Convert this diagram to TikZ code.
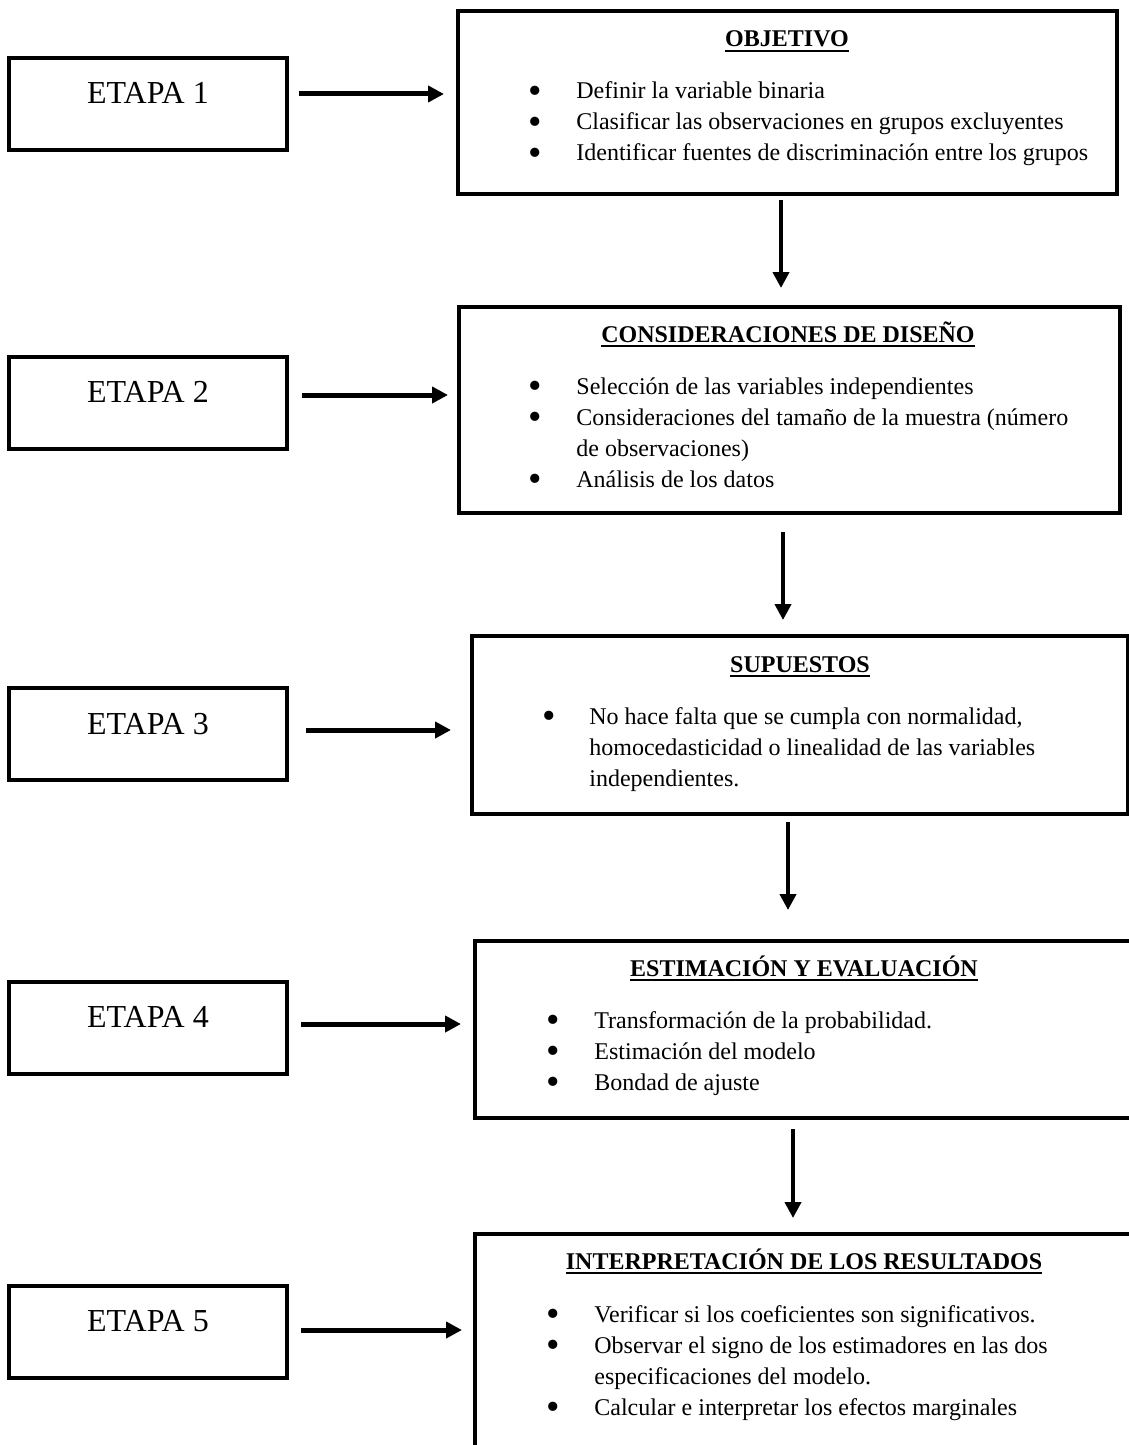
\documentclass[tikz,border=0pt]{standalone}
\usepackage{fontspec}
\setmainfont{Liberation Serif}
\usetikzlibrary{arrows.meta}

\newsavebox{\cajatit}
\newcommand{\subrayado}[1]{\sbox{\cajatit}{#1}\rlap{\rule[-2.6pt]{\wd\cajatit}{1.1pt}}\usebox{\cajatit}}
\newcommand{\vineta}{\raisebox{-2pt}{\scalebox{1.6}{\textbullet}}}

\tikzset{
  etapa/.style={draw,line width=2pt,minimum width=139pt,minimum height=46pt,inner sep=0pt},
  marco/.style={draw,line width=2pt,inner sep=0pt},
  rotulo/.style={font=\fontsize{16}{19}\selectfont,inner sep=0pt,anchor=base},
  titulo/.style={font=\fontsize{12}{15}\selectfont\bfseries,inner sep=0pt,anchor=base},
  lista/.style={font=\fontsize{12}{15.5}\selectfont,inner sep=0pt,anchor=base west},
  flecha/.style={-{Triangle[length=8pt,width=8pt]},line width=2.5pt},
  bajada/.style={-{Triangle[length=8pt,width=8pt]},line width=2pt}
}

\begin{document}
\begin{tikzpicture}[x=0.5pt,y=-0.5pt]
  \useasboundingbox (0,0) rectangle (1129,1445);
  \clip (0,0) rectangle (1129,1445);

  % etapas
  \node[etapa] (e1) at (148,104) {};
  \node[etapa] (e2) at (148,402.5) {};
  \node[etapa] (e3) at (148,734) {};
  \node[etapa] (e4) at (148,1027.5) {};
  \node[etapa] (e5) at (148,1331.5) {};
  \foreach \i in {1,...,5}
    \node[rotulo] (t\i) at (e\i.center) {ETAPA \i};

  % cuadros de contenido
  \node[marco,minimum width=329.5pt,minimum height=91.5pt] (o1) at (787.5,102.5) {};
  \node[marco,minimum width=330.5pt,minimum height=103pt] (o2) at (789.5,410) {};
  \node[marco,minimum width=328pt,minimum height=89pt] (o3) at (800,725) {};
  \node[marco,minimum width=329pt,minimum height=88.5pt] (o4) at (804,1029.5) {};
  \node[marco,minimum width=329pt,minimum height=113pt] (o5) at (804,1347) {};

  \node[titulo] (h1) at (787,47) {\subrayado{OBJETIVO}};
  \node[lista] (l1) at (528,99) {\begin{tabular}[t]{@{}p{24pt}@{}l@{}}
    \vineta & Definir la variable binaria\\
    \vineta & Clasificar las observaciones en grupos excluyentes\\
    \vineta & Identificar fuentes de discriminación entre los grupos
  \end{tabular}};

  \node[titulo] (h2) at (788,342) {\subrayado{CONSIDERACIONES DE DISEÑO}};
  \node[lista] (l2) at (528,394) {\begin{tabular}[t]{@{}p{24pt}@{}l@{}}
    \vineta & Selección de las variables independientes\\
    \vineta & Consideraciones del tamaño de la muestra (número\\
            & de observaciones)\\
    \vineta & Análisis de los datos
  \end{tabular}};

  \node[titulo] (h3) at (800,672) {\subrayado{SUPUESTOS}};
  \node[lista] (l3) at (542,724) {\begin{tabular}[t]{@{}p{23.5pt}@{}l@{}}
    \vineta & No hace falta que se cumpla con normalidad,\\
            & homocedasticidad o linealidad de las variables\\
            & independientes.
  \end{tabular}};

  \node[titulo] (h4) at (804,976) {\subrayado{ESTIMACIÓN Y EVALUACIÓN}};
  \node[lista] (l4) at (546,1028) {\begin{tabular}[t]{@{}p{24pt}@{}l@{}}
    \vineta & Transformación de la probabilidad.\\
    \vineta & Estimación del modelo\\
    \vineta & Bondad de ajuste
  \end{tabular}};

  \node[titulo] (h5) at (804,1269) {\subrayado{INTERPRETACIÓN DE LOS RESULTADOS}};
  \node[lista] (l5) at (546,1322) {\begin{tabular}[t]{@{}p{24pt}@{}l@{}}
    \vineta & Verificar si los coeficientes son significativos.\\
    \vineta & Observar el signo de los estimadores en las dos\\
            & especificaciones del modelo.\\
    \vineta & Calcular e interpretar los efectos marginales
  \end{tabular}};

  % flechas horizontales
  \draw[flecha,shorten <=5pt,shorten >=6pt] ([yshift=5pt]e1.east) -- ([yshift=5pt]e1.east -| o1.west);
  \draw[flecha,shorten <=6.5pt,shorten >=4.5pt] ([yshift=3.75pt]e2.east) -- ([yshift=3.75pt]e2.east -| o2.west);
  \draw[flecha,shorten <=8.5pt,shorten >=9.5pt] ([yshift=2pt]e3.east) -- ([yshift=2pt]e3.east -| o3.west);
  \draw[flecha,shorten <=6pt,shorten >=6pt] ([yshift=1.75pt]e4.east) -- ([yshift=1.75pt]e4.east -| o4.west);
  \draw[flecha,shorten <=6pt,shorten >=5.5pt] ([yshift=0.75pt]e5.east) -- ([yshift=0.75pt]e5.east -| o5.west);

  % flechas verticales
  \draw[bajada,shorten <=2pt,shorten >=8.5pt] ([xshift=-3.25pt]o1.south) -- ([xshift=-3.25pt]o1.south |- o2.north);
  \draw[bajada,shorten <=8.5pt,shorten >=7pt] ([xshift=-3.25pt]o2.south) -- ([xshift=-3.25pt]o2.south |- o3.north);
  \draw[bajada,shorten <=3pt,shorten >=14.5pt] ([xshift=-6pt]o3.south) -- ([xshift=-6pt]o3.south |- o4.north);
  \draw[bajada,shorten <=4.5pt,shorten >=7pt] ([xshift=-5.5pt]o4.south) -- ([xshift=-5.5pt]o4.south |- o5.north);
\end{tikzpicture}
\end{document}
